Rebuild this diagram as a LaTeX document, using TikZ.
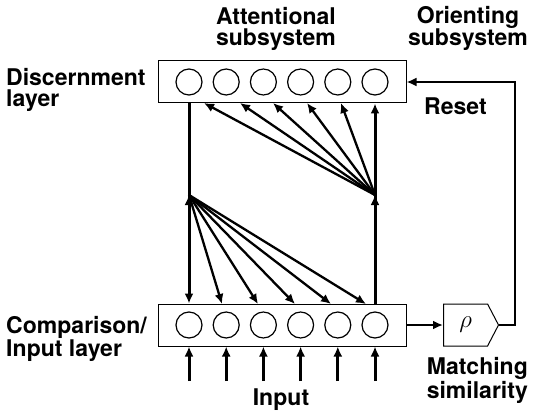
\documentclass[tikz,border=0pt]{standalone}
\usepackage{fontspec}
\setmainfont{TeX Gyre Heros}
\usetikzlibrary{arrows.meta, shapes.symbols}
\tikzset{
  unit/.style={circle, draw, line width=1.2pt, minimum size=26pt, inner sep=0pt},
  layer/.style={rectangle, draw, line width=1pt, minimum width=248pt, minimum height=42pt},
  lbl/.style={inner sep=0pt, font=\fontsize{23}{21}\selectfont\bfseries},
}
\begin{document}
\begin{tikzpicture}[black, x=1pt, y=-1pt, >={Latex[length=10pt, width=9pt]}]
    \newcommand\XL{189}
    \newcommand\DX{37.2}
    \newcommand\YD{82}
    \newcommand\YC{325}
    \newcommand\YF{195}
    \newcommand\YI{381}
    \newcommand\XR{515}
    \useasboundingbox (0,0) rectangle (533,417);
    % layers
    \node[layer] (DL) at (282, \YD){};
    \node[layer] (CL) at (282, \YC){};
    \node[unit] (D1) at (\XL, \YD){};
    \node[unit] (D2) at (\XL+\DX, \YD){};
    \node[unit] (D3) at (\XL+2*\DX, \YD){};
    \node[unit] (D4) at (\XL+3*\DX, \YD){};
    \node[unit] (D5) at (\XL+4*\DX, \YD){};
    \node[unit] (D6) at (\XL+5*\DX, \YD){};
    \node[unit] (C1) at (\XL, \YC){};
    \node[unit] (C2) at (\XL+\DX, \YC){};
    \node[unit] (C3) at (\XL+2*\DX, \YC){};
    \node[unit] (C4) at (\XL+3*\DX, \YC){};
    \node[unit] (C5) at (\XL+4*\DX, \YC){};
    \node[unit] (C6) at (\XL+5*\DX, \YC){};
    \node[signal, signal to=east, signal pointer angle=125, draw, line width=1pt,
          minimum width=55pt, minimum height=42pt, inner sep=0pt, anchor=west,
          font=\fontsize{28}{28}\selectfont] (RHO) at (443, \YC){$\rho$\hspace{9pt}};
    % labels
    \node[lbl, anchor=base west, align=left] (DLT) at (6, 107){Discernment\\layer};
    \node[lbl, anchor=base west, align=left] (CLT) at (6, 356){Comparison/\\Input layer};
    \node[lbl, anchor=base, align=center] (AT) at (276, 46){Attentional\\subsystem};
    \node[lbl, anchor=base, align=center] (OT) at (468, 46){Orienting\\subsystem};
    \node[lbl, anchor=base west] (RT) at (424, 115){Reset};
    \node[lbl, anchor=base east, align=right] (MT) at (528, 398){Matching\\similarity};
    \node[lbl, anchor=base] (IT) at (281, 405){Input};
    % connections
    \coordinate (FL) at (\XL, \YF);
    \coordinate (FR) at (\XL+5*\DX, \YF);
    \coordinate (T1) at (204, 103);
    \coordinate (T2) at (240, 103);
    \coordinate (T3) at (273, 103);
    \coordinate (T4) at (307, 103);
    \coordinate (T5) at (341, 103);
    \coordinate (B1) at (222, 304);
    \coordinate (B2) at (258, 304);
    \coordinate (B3) at (295, 304);
    \coordinate (B4) at (331, 304);
    \coordinate (B5) at (366, 304);
    \coordinate (I1) at (\XL, \YI);
    \coordinate (I2) at (\XL+\DX, \YI);
    \coordinate (I3) at (\XL+2*\DX, \YI);
    \coordinate (I4) at (\XL+3*\DX, \YI);
    \coordinate (I5) at (\XL+4*\DX, \YI);
    \coordinate (I6) at (\XL+5*\DX, \YI);
    \coordinate (RS) at (\XR, \YD);
    \draw[->, line width=3pt] (DL.south -| D1) -- (CL.north -| C1);
    \draw[->, line width=3pt] (CL.north -| C6) -- (DL.south -| D6);
    \draw[->, line width=2.3pt] (FR) edge (T1) edge (T2) edge (T3) edge (T4) edge (T5);
    \draw[->, line width=2.3pt] (FL) edge (B1) edge (B2) edge (B3) edge (B4) edge (B5);
    \draw[->, line width=3pt] (I1) -- (I1 |- CL.south);
    \draw[->, line width=3pt] (I2) -- (I2 |- CL.south);
    \draw[->, line width=3pt] (I3) -- (I3 |- CL.south);
    \draw[->, line width=3pt] (I4) -- (I4 |- CL.south);
    \draw[->, line width=3pt] (I5) -- (I5 |- CL.south);
    \draw[->, line width=3pt] (I6) -- (I6 |- CL.south);
    \draw[->, line width=2.6pt] (CL.east) -- (RHO.west);
    \draw[->, line width=2.3pt] (RHO.east) -| (RS) -- (DL.east);
\end{tikzpicture}
\end{document}
